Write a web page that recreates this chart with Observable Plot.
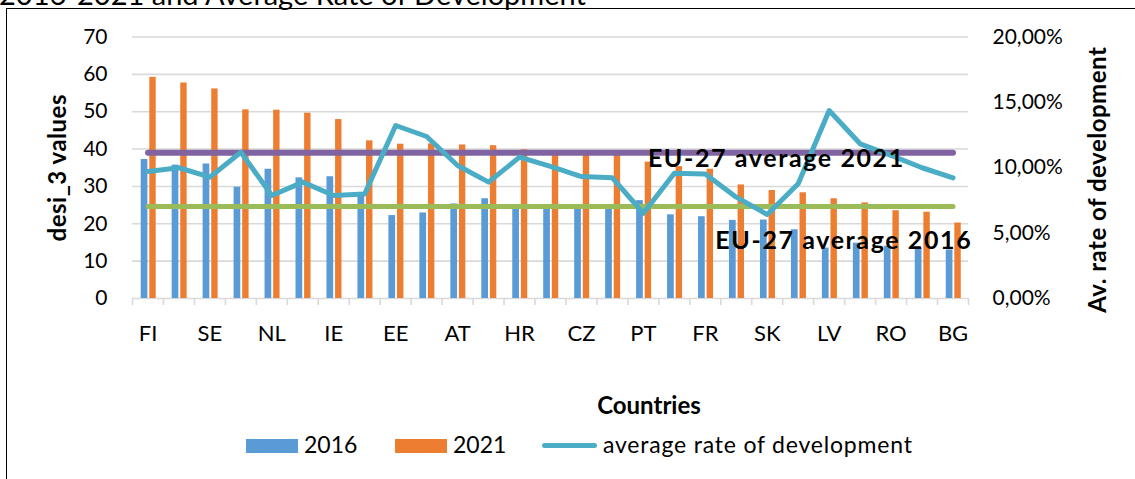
<!DOCTYPE html>
<html><head><meta charset="utf-8">
<script src="https://cdn.jsdelivr.net/npm/d3@7"></script>
<script src="https://cdn.jsdelivr.net/npm/@observablehq/plot@0.6"></script>
<style>
body{margin:0;background:#fff;}
#wrap{position:relative;width:1135px;height:479px;overflow:hidden;font-family:Lato,sans-serif;color:#000;}
#frame{position:absolute;left:6px;top:8px;width:1200px;height:600px;border:1.5px solid #000;box-sizing:border-box;}
#title{position:absolute;left:-1px;top:-21px;font-size:29px;line-height:29px;white-space:nowrap;}
#chart{position:absolute;left:0;top:0;}
.lg{position:absolute;font-size:23px;line-height:23px;white-space:nowrap;}
.sw{position:absolute;}
#xtitle{position:absolute;left:549px;width:200px;text-align:center;top:393px;font-size:24px;line-height:23px;font-weight:bold;}
</style></head>
<body>
<div id="wrap">
  <div id="title">2016-2021 and Average Rate of Development</div>
  <div id="frame"></div>
  <div id="chart"></div>
  <div id="xtitle">Countries</div>
  <div class="sw" style="left:246px;top:439px;width:52px;height:14px;background:#5B9BD5"></div>
  <div class="lg" style="left:304px;top:433px">2016</div>
  <div class="sw" style="left:395px;top:439px;width:52px;height:14px;background:#ED7D31"></div>
  <div class="lg" style="left:453px;top:433px">2021</div>
  <div class="sw" style="left:542px;top:442.5px;width:55px;height:5px;border-radius:3px;background:#4BACC6"></div>
  <div class="lg" style="left:603px;top:433px;letter-spacing:0.8px">average rate of development</div>
</div>
<script>
const countries = ["FI","DK","SE","BE","NL","MT","IE","LT","EE","IT","AT","SI","HR","DE","CZ","ES","PT","LU","FR","CY","SK","EL","LV","PL","RO","HU","BG"];
const values2016 = [37.2,35.7,36.0,29.8,34.6,32.3,32.6,28.4,22.2,22.9,25.3,26.7,24.5,24.3,24.4,24.2,26.2,22.4,21.9,20.9,21.0,18.4,13.5,14.8,14.0,13.3,13.0];
const values2021 = [59.2,57.7,56.1,50.5,50.4,49.6,47.9,42.2,41.3,41.4,41.1,40.9,39.8,39.2,38.9,38.6,36.5,35.3,34.6,30.4,28.9,28.3,26.7,25.6,23.5,23.1,20.2];
const avgRate = [9.71,10.0,9.28,11.19,7.88,8.9,7.88,8.0,13.23,12.39,10.17,8.9,10.81,10.1,9.33,9.23,6.52,9.58,9.53,7.75,6.42,8.77,14.38,11.83,10.94,10.0,9.23];
const eu27avg2021 = 39.0;
const eu27avg2016 = 24.6;
const leftTicks = [0,10,20,30,40,50,60,70];
const rightTicks = [0,5,10,15,20];
const label2021 = "EU-27 average 2021";
const label2016 = "EU-27 average 2016";
const yTitle = "desi_3 values";
const y2Title = "Av. rate of development";

const W = 1135, H = 380;
const mL = 132, mR = 167, mT = 36.5, mB = 82;
const bw = (W - mL - mR) / countries.length;
const yMax = 70, pMax = 20;
const toLeft = p => p * yMax / pMax;
const data = countries.map((c, i) => ({country: c, v2016: values2016[i], v2021: values2021[i], rate: avgRate[i]}));
const ends = [countries[0], countries[countries.length - 1]];

const chart = Plot.plot({
  width: W, height: H,
  marginLeft: mL, marginRight: mR, marginTop: mT, marginBottom: mB,
  style: {fontFamily: "Lato, sans-serif", fontSize: "21px", color: "#000", background: "transparent", overflow: "visible"},
  x: {type: "band", domain: countries, padding: 0, round: false},
  y: {domain: [0, yMax]},
  marks: [
    Plot.gridY(leftTicks, {stroke: "#d9d9d9", strokeOpacity: 1, strokeWidth: 1.6}),
    Plot.ruleX(countries, {x: d => d, y1: 0, y2: 0, insetBottom: -7, dx: -bw / 2, stroke: "#d9d9d9", strokeWidth: 1.6}),
    Plot.ruleX([countries[countries.length - 1]], {x: d => d, y1: 0, y2: 0, insetBottom: -7, dx: bw / 2, stroke: "#d9d9d9", strokeWidth: 1.6}),
    Plot.barY(data, {x: "country", y: "v2016", fill: "#5B9BD5", insetLeft: 8.7, insetRight: bw - 15.4}),
    Plot.barY(data, {x: "country", y: "v2021", fill: "#ED7D31", insetLeft: 17.3, insetRight: bw - 23.7}),
    Plot.lineY(ends, {x: d => d, y: () => eu27avg2021, stroke: "#8064A2", strokeWidth: 6, strokeLinecap: "round"}),
    Plot.lineY(ends, {x: d => d, y: () => eu27avg2016, stroke: "#9BBB59", strokeWidth: 5, strokeLinecap: "round"}),
    Plot.lineY(data, {x: "country", y: d => toLeft(d.rate), stroke: "#4BACC6", strokeWidth: 5, strokeLinejoin: "round", strokeLinecap: "round"}),
    Plot.text([label2021], {x: () => countries[16], y: () => eu27avg2021, text: d => d, dx: 4.5, dy: 6.5, textAnchor: "start", fontWeight: "bold", fontSize: 25, fill: "#000"}),
    Plot.text([label2016], {x: () => countries[18], y: () => eu27avg2016, text: d => d, dx: 10, dy: 34, textAnchor: "start", fontWeight: "bold", fontSize: 25, fill: "#000"}),
    Plot.axisY(leftTicks, {anchor: "left", tickSize: 0, tickPadding: 25, fontSize: 21, label: null}),
    Plot.axisY(rightTicks.map(toLeft), {anchor: "right", tickSize: 0, tickPadding: 24, fontSize: 21, label: null,
      tickFormat: d => (d * pMax / yMax).toFixed(2).replace(".", ",") + "%"}),
    Plot.axisX({tickSize: 0, tickPadding: 27, fontSize: 22, label: null,
      tickFormat: d => countries.indexOf(d) % 2 ? "" : d}),
    Plot.text([yTitle], {frameAnchor: "left", textAnchor: "middle", text: d => d, dx: -74.5, rotate: -90, fontWeight: "bold", fontSize: 24, fill: "#000"}),
    Plot.text([y2Title], {frameAnchor: "right", textAnchor: "middle", text: d => d, dx: 130, dy: 12, rotate: -90, fontWeight: "bold", fontSize: 24, fill: "#000"})
  ]
});
chart.querySelectorAll("text").forEach(t => {
  const s = t.textContent;
  if (s.startsWith("EU-27")) t.style.letterSpacing = "1.6px";
  if (s === yTitle || s === y2Title) t.style.letterSpacing = "0.5px";
});
document.getElementById("chart").appendChild(chart);
</script>
</body></html>
